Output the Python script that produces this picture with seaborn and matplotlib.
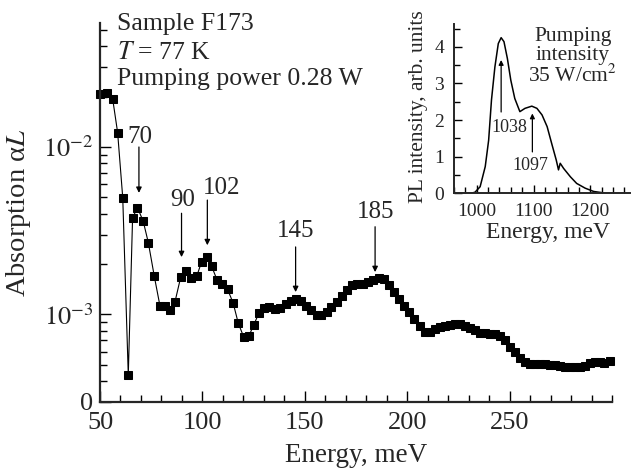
import numpy as np
import pandas as pd
import seaborn as sns
import matplotlib.pyplot as plt
from matplotlib.ticker import FixedLocator, FixedFormatter, MultipleLocator

# Absorption spectrum (main panel)
energy = [50.0, 53.3, 56.2, 58.6, 61.1, 63.8, 65.9, 68.3, 71.1, 73.6,
          76.5, 79.3, 81.7, 84.3, 86.6, 89.4, 91.8, 94.4, 97.2, 99.6,
          102.0, 104.5, 107.2, 109.6, 112.3, 115.0, 117.5, 120.2, 122.7, 125.1,
          127.6, 130.1, 132.6, 135.4, 138.0, 140.6, 143.2, 145.6, 148.0, 150.5,
          153.2, 155.7, 158.1, 160.7, 163.0, 165.6, 168.2, 170.8, 173.2, 175.7,
          178.4, 180.9, 183.5, 186.1, 188.6, 191.1, 193.6, 196.0, 198.5, 201.0,
          203.5, 206.0, 208.5, 211.0, 213.4, 215.9, 218.3, 220.7, 223.2, 225.6,
          228.0, 230.5, 232.9, 235.4, 237.8, 240.2, 242.7, 245.1, 247.6, 250.0,
          252.4, 254.9, 257.3, 259.8, 262.2, 264.6, 267.1, 269.5, 272.0, 274.4,
          276.8, 279.3, 281.7, 284.1, 286.6, 289.0, 291.5, 293.9, 296.3, 298.8]
absorption = [0.0207, 0.0209, 0.0193, 0.0122, 0.00497, 0.000435, 0.00378, 0.00434, 0.0036, 0.00268,
              0.00169, 0.00112, 0.00113, 0.00107, 0.00119, 0.00167, 0.00181, 0.00164, 0.00169, 0.00206,
              0.00219, 0.00194, 0.0016, 0.00151, 0.00141, 0.00117, 0.000887, 0.000731, 0.000745, 0.000868,
              0.00102, 0.00110, 0.00111, 0.00108, 0.00109, 0.00116, 0.00121, 0.00124, 0.00120, 0.00113,
              0.00106, 0.000996, 0.000996, 0.00104, 0.00111, 0.00119, 0.00128, 0.00139, 0.00149, 0.00151,
              0.00153, 0.00156, 0.00160, 0.00165, 0.00162, 0.00150, 0.00137, 0.00123, 0.00113, 0.00103,
              0.00094, 0.00085, 0.00079, 0.00079, 0.000817, 0.000839, 0.000855, 0.00086, 0.000871, 0.000871,
              0.000858, 0.000832, 0.000802, 0.00078, 0.000774, 0.000766, 0.000766, 0.000748, 0.000705, 0.000643,
              0.000594, 0.00055, 0.000518, 0.000507, 0.000505, 0.000505, 0.000503, 0.0005, 0.000497, 0.000493,
              0.000488, 0.000485, 0.000485, 0.000488, 0.000495, 0.00051, 0.00052, 0.00052, 0.000515, 0.000525]

# peak markers: label, label x, arrow x, label y, arrow tail y, arrow head y
peak_labels = ['70', '90', '102', '145', '185']
peak_label_x = [69.5, 90.2, 109.2, 145.3, 184.5]
peak_x = [69, 89.8, 102.4, 145.5, 184.3]
peak_label_y = [0.0115, 0.00482, 0.00567, 0.00314, 0.00408]
peak_tail_y = [0.0100, 0.00402, 0.00482, 0.00253, 0.00334]
peak_head_y = [0.00532, 0.0022, 0.00259, 0.00136, 0.00179]

# PL spectrum (inset)
pl_energy = [960, 980, 990, 997, 1006, 1015, 1021, 1026, 1032, 1038, 1043, 1048, 1054, 1060,
             1067, 1076, 1085, 1097, 1106, 1115, 1124, 1132, 1140, 1144, 1147, 1153,
             1165, 1176, 1191, 1206, 1229, 1240]
pl_intensity = [0, 0, 0.0, 0.03, 0.18, 0.73, 1.45, 2.55, 3.45, 4.09, 4.25, 4.14, 3.68, 3.09,
                2.59, 2.23, 2.32, 2.38, 2.32, 2.14, 1.82, 1.36, 0.91, 0.64, 0.82, 0.68,
                0.45, 0.27, 0.14, 0.05, 0.0, 0.0]

sns.set_style('ticks')
plt.rcParams['font.family'] = ['Liberation Serif', 'DejaVu Serif']
plt.rcParams['mathtext.fontset'] = 'stix'

df = pd.DataFrame({'energy': energy, 'absorption': absorption})
pl = pd.DataFrame({'energy': pl_energy, 'intensity': pl_intensity})

fig = plt.figure(figsize=(6.31, 4.70), dpi=100)
ax = fig.add_axes([0.1585, 0.1447, 0.8115, 0.8063])

sns.lineplot(data=df, x='energy', y='absorption', ax=ax, color='black', lw=0.8,
             marker='s', markersize=6, markeredgecolor='black', clip_on=False)
ax.set_yscale('log')
ax.set_xlim(50, 300)
ax.set_ylim(3e-4, 5.5e-2)
sns.despine(ax=ax)

ax.set_xticks([50, 100, 150, 200, 250])
ax.xaxis.set_minor_locator(MultipleLocator(10))
ax.yaxis.set_major_locator(FixedLocator([3e-4, 1e-3, 1e-2]))
ax.yaxis.set_major_formatter(FixedFormatter(['0', r'$10^{-3}$', r'$10^{-2}$']))
minor_y = [4e-4, 5e-4, 6e-4, 7e-4, 8e-4, 9e-4, 2e-3, 3e-3, 4e-3, 5e-3, 6e-3, 7e-3,
           8e-3, 9e-3, 2e-2, 3e-2, 4e-2, 5e-2]
ax.yaxis.set_minor_locator(FixedLocator(minor_y))
ax.yaxis.set_minor_formatter(FixedFormatter([''] * len(minor_y)))
ax.tick_params(which='both', direction='in', width=1, labelsize=19, color='black')
ax.tick_params(which='major', length=8)
ax.tick_params(which='minor', length=5)
ax.tick_params(axis='x', pad=7)
ax.tick_params(axis='y', pad=5)
for s in ax.spines.values():
    s.set_linewidth(1.6)

ax.set_xlabel('Energy, meV', fontsize=19.5)
ax.set_ylabel(r'Absorption α$L$', fontsize=20.5)
ax.xaxis.set_label_coords(0.5, -0.108)
ax.yaxis.set_label_coords(-0.13, 0.5)

for lab, lx, px, ly, ty, hy in zip(peak_labels, peak_label_x, peak_x, peak_label_y,
                                   peak_tail_y, peak_head_y):
    ax.text(lx, ly, lab, ha='center', va='center', fontsize=18)
    ax.annotate('', xy=(px, hy), xytext=(px, ty),
                arrowprops=dict(arrowstyle='-|>', color='black', lw=0.9, mutation_scale=8,
                                shrinkA=0, shrinkB=0))

ax.text(0.033, 0.9815, 'Sample F173', transform=ax.transAxes, fontsize=18.5, va='baseline')
ax.text(0.033, 0.904, r'$T$ = 77 K', transform=ax.transAxes, fontsize=18.5, va='baseline')
ax.text(0.033, 0.837, 'Pumping power 0.28 W', transform=ax.transAxes, fontsize=18.5, va='baseline')

# inset
ins = fig.add_axes([0.7195, 0.5887, 0.279, 0.360])
sns.lineplot(data=pl, x='energy', y='intensity', ax=ins, color='black', lw=1.1)
ins.set_xlim(960, 1270)
ins.set_ylim(0, 4.62)
sns.despine(ax=ins)
ins.set_xticks([1000, 1100, 1200])
ins.xaxis.set_minor_locator(MultipleLocator(20))
ins.set_yticks([0, 1, 2, 3, 4])
ins.yaxis.set_minor_locator(MultipleLocator(0.5))
ins.tick_params(which='both', direction='in', width=1, labelsize=14, color='black')
ins.tick_params(which='major', length=6)
ins.tick_params(which='minor', length=4)
ins.tick_params(axis='x', pad=7)
ins.tick_params(axis='y', pad=7)
for s in ins.spines.values():
    s.set_linewidth(1.4)
ins.set_xlabel('Energy, meV', fontsize=17)
ins.set_ylabel('PL intensity, arb. units', fontsize=15.5)
ins.xaxis.set_label_coords(0.534, -0.17)
ins.yaxis.set_label_coords(-0.15, 0.51)

ins.annotate('', xy=(1043, 3.64), xytext=(1043, 2.22),
             arrowprops=dict(arrowstyle='-|>', color='black', lw=0.9, mutation_scale=7,
                             shrinkA=0, shrinkB=0))
ins.text(1058, 1.81, '1038', ha='center', va='center', fontsize=13)
ins.annotate('', xy=(1098, 2.18), xytext=(1098, 1.13),
             arrowprops=dict(arrowstyle='-|>', color='black', lw=0.9, mutation_scale=7,
                             shrinkA=0, shrinkB=0))
ins.text(1094, 0.77, '1097', ha='center', va='center', fontsize=13)
ins.text(1169, 3.72, 'Pumping\nintensity\n35 W/cm$^2$', ha='center', va='center',
         fontsize=15.5, linespacing=1.0)

fig.savefig('out.png', dpi=100)
